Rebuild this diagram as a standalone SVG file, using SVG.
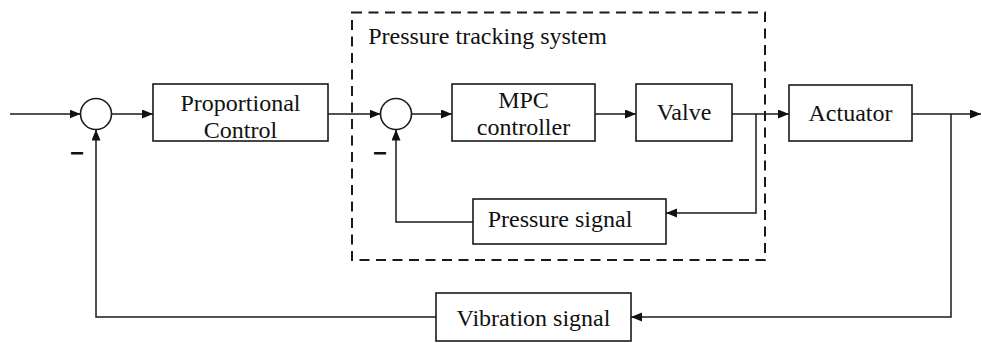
<svg xmlns="http://www.w3.org/2000/svg" width="982" height="343" viewBox="0 0 982 343">
<style>
.box{fill:#fff;stroke:#1a1a1a;stroke-width:1.6}
.sum{fill:#fff;stroke:#1a1a1a;stroke-width:1.6}
.lbl{font-family:"Liberation Serif","Times New Roman",serif;font-size:24px;fill:#111;text-anchor:middle}
.minus{font-family:"Liberation Sans",Arial,sans-serif;font-size:24px;font-weight:bold;fill:#111;text-anchor:middle}
.wire{fill:none;stroke:#1a1a1a;stroke-width:1.5}
.arr{marker-end:url(#ah)}
</style>
<defs>
<marker id="ah" markerUnits="userSpaceOnUse" markerWidth="12" markerHeight="10" refX="11" refY="4.5" orient="auto">
<path d="M0,0 L11,4.5 L0,9 z" fill="#111"/>
</marker>
</defs>
<g id="tracking-system">
<rect x="352" y="12.5" width="413" height="247.5" fill="none" stroke="#1a1a1a" stroke-width="2" stroke-dasharray="10,6.5"/>
<text class="lbl" x="487.5" y="44">Pressure tracking system</text>
</g>
<g id="connectors">
<path class="wire arr" d="M10,114 H80.5"/>
<path class="wire arr" d="M111.5,114 H153"/>
<path class="wire arr" d="M328,114 H380.5"/>
<path class="wire arr" d="M411.5,114 H452"/>
<path class="wire arr" d="M595,114 H636"/>
<path class="wire arr" d="M732,114 H789"/>
<path class="wire arr" d="M756,114 V213 H666"/>
<path class="wire arr" d="M473,222 H396 V129.5"/>
<path class="wire arr" d="M912,114 H981"/>
<path class="wire arr" d="M951,114 V317 H631"/>
<path class="wire arr" d="M436,317 H96 V129.5"/>
</g>
<g id="sum1">
<circle class="sum" cx="96" cy="114" r="15.5"/>
<text class="minus" x="77" y="161">−</text>
</g>
<g id="proportional-control">
<rect class="box" x="153" y="84" width="175" height="57"/>
<text class="lbl" x="240.5" y="111">Proportional</text>
<text class="lbl" x="240.5" y="138">Control</text>
</g>
<g id="sum2">
<circle class="sum" cx="396" cy="114" r="15.5"/>
<text class="minus" x="380" y="161">−</text>
</g>
<g id="mpc-controller">
<rect class="box" x="452" y="84" width="143" height="57"/>
<text class="lbl" x="523.5" y="108">MPC</text>
<text class="lbl" x="523.5" y="135">controller</text>
</g>
<g id="valve">
<rect class="box" x="636" y="84" width="96" height="57"/>
<text class="lbl" x="684" y="120">Valve</text>
</g>
<g id="actuator">
<rect class="box" x="789" y="85" width="123" height="56"/>
<text class="lbl" x="850.5" y="121">Actuator</text>
</g>
<g id="pressure-signal">
<rect class="box" x="473" y="199" width="193" height="45"/>
<text class="lbl" x="560" y="227">Pressure signal</text>
</g>
<g id="vibration-signal">
<rect class="box" x="436" y="293" width="195" height="48"/>
<text class="lbl" x="533.5" y="326">Vibration signal</text>
</g>
</svg>
